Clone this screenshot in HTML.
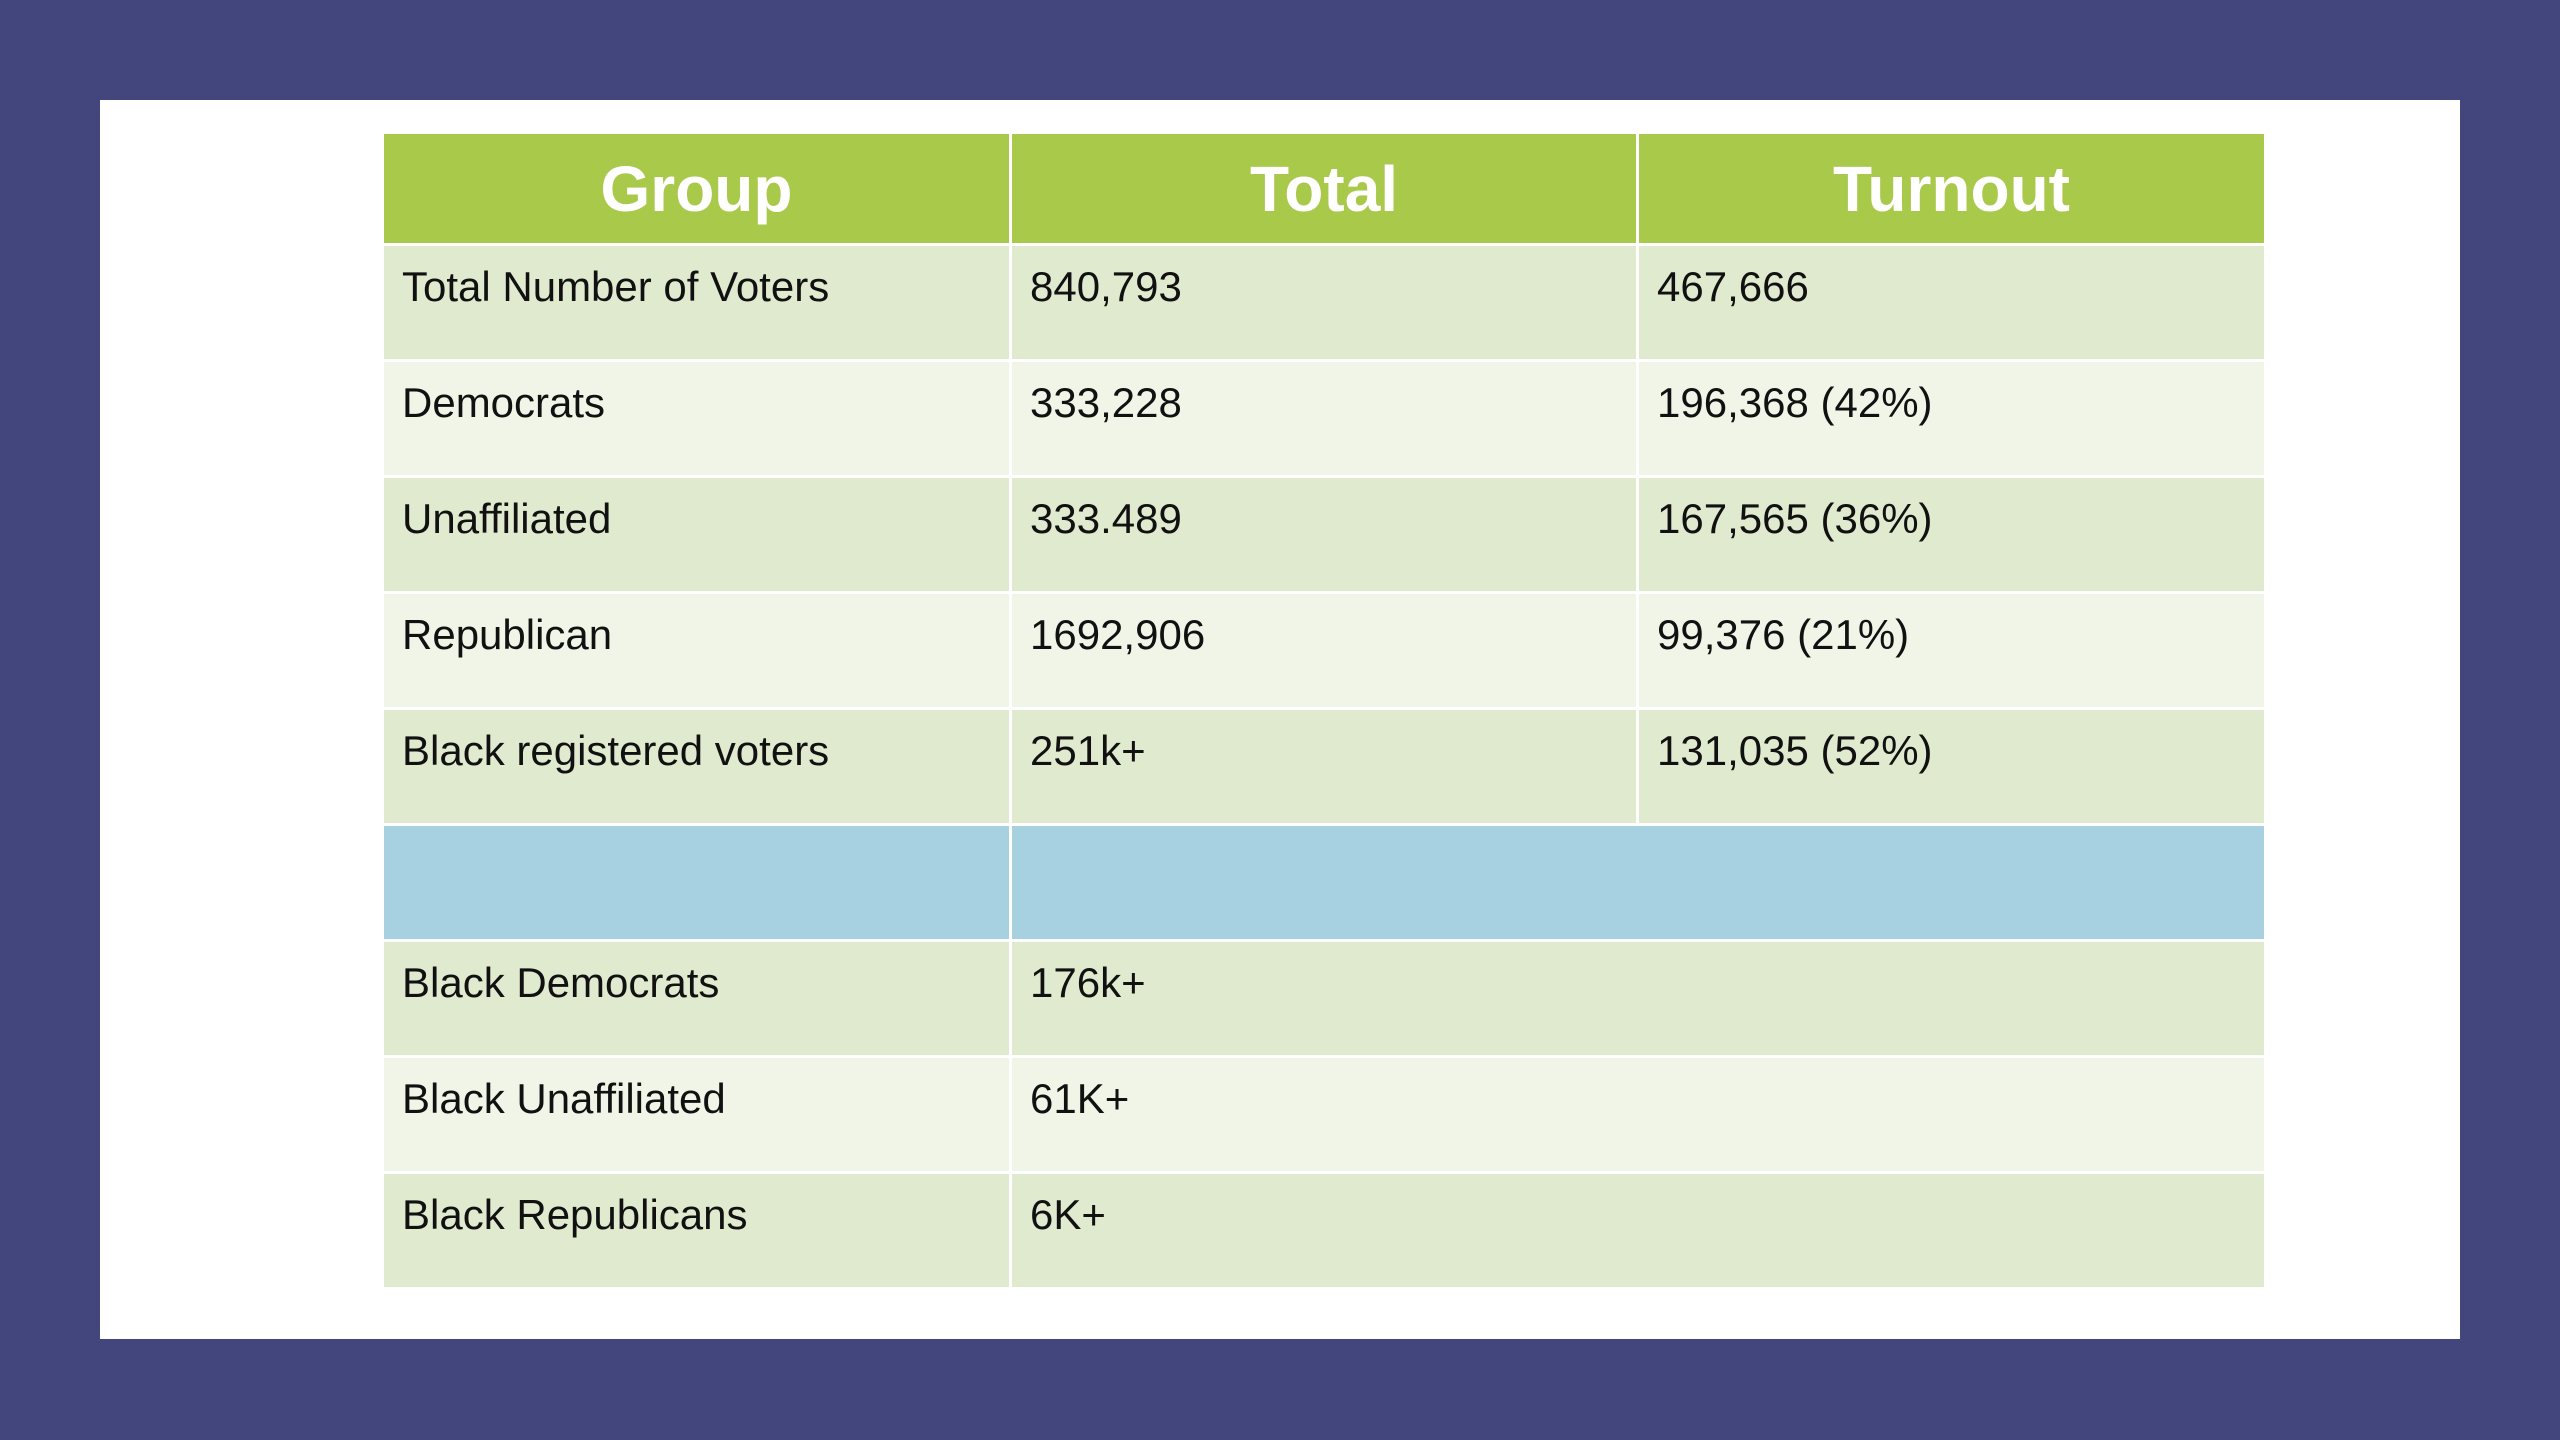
<!DOCTYPE html>
<html><head><meta charset="utf-8"><style>
html,body{margin:0;padding:0}
body{width:2560px;height:1440px;background:#43467C;position:relative;overflow:hidden;font-family:"Liberation Sans",Arial,sans-serif}
.box{position:absolute;left:100px;top:100px;width:2360px;height:1239px;background:#fff}
table{position:absolute;left:381px;top:131px;width:1883px;border-collapse:collapse;table-layout:fixed}
td,th{border:3px solid #fff;box-sizing:border-box;padding:0}
th{background:#A9C94B;color:#fff;font-size:64px;font-weight:bold;height:112px;text-align:center;vertical-align:middle}
td{height:116px;font-size:42px;color:#111;vertical-align:top;padding:17px 0 0 18px}
tr.d td{background:#E0EACE}
tr.l td{background:#F0F5E8}
tr.b td{background:#A7D0E1}
</style></head><body>
<div class="box"></div>
<table>
<colgroup><col style="width:628px"><col style="width:627px"><col style="width:628px"></colgroup>
<tr><th>Group</th><th>Total</th><th>Turnout</th></tr>
<tr class="d"><td>Total Number of Voters</td><td>840,793</td><td>467,666</td></tr>
<tr class="l"><td>Democrats</td><td>333,228</td><td>196,368 (42%)</td></tr>
<tr class="d"><td>Unaffiliated</td><td>333.489</td><td>167,565 (36%)</td></tr>
<tr class="l"><td>Republican</td><td>1692,906</td><td>99,376 (21%)</td></tr>
<tr class="d"><td>Black registered voters</td><td>251k+</td><td>131,035 (52%)</td></tr>
<tr class="b"><td></td><td colspan="2"></td></tr>
<tr class="d"><td>Black Democrats</td><td colspan="2">176k+</td></tr>
<tr class="l"><td>Black Unaffiliated</td><td colspan="2">61K+</td></tr>
<tr class="d"><td>Black Republicans</td><td colspan="2">6K+</td></tr>
</table>
</body></html>
